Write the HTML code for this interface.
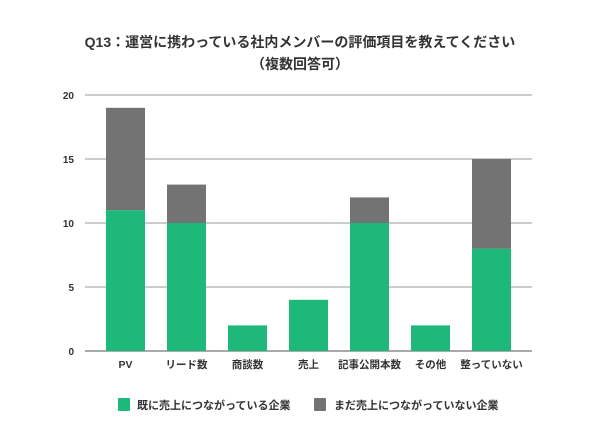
<!DOCTYPE html>
<html><head><meta charset="utf-8"><style>
body{margin:0;background:#fff;}
svg{display:block;font-family:"Liberation Sans","Noto Sans CJK JP",sans-serif;}
</style></head><body>
<svg width="600" height="444" viewBox="0 0 600 444">
<text x="300" y="47" text-anchor="middle" font-size="14" font-weight="bold" fill="#333">Q13：運営に携わっている社内メンバーの評価項目を教えてください</text>
<text x="300" y="69" text-anchor="middle" font-size="14" font-weight="bold" fill="#333">（複数回答可）</text>
<g id="grid"></g><g id="bars"></g><g id="xlabels"></g>
<g>
<rect x="118" y="398" width="12" height="13" rx="1" fill="#1db87a"/>
<text x="137" y="409" font-size="11" font-weight="bold" fill="#333">既に売上につながっている企業</text>
<rect x="314" y="398" width="12" height="13" rx="1" fill="#737373"/>
<text x="334" y="409" font-size="11" font-weight="bold" fill="#333">まだ売上につながっていない企業</text>
</g>
</svg>
<script>
const categories=["PV","リード数","商談数","売上","記事公開本数","その他","整っていない"];
const convertedValues=[11,10,2,4,10,2,8];
const notConvertedValues=[8,3,0,0,2,0,7];
const yTicks=[0,5,10,15,20];
const NS="http://www.w3.org/2000/svg";
const y0=351,yTop=95,yMax=20,left=85,right=532,step=61,barW=39,firstBar=106;
const y=v=>y0-(y0-yTop)*v/yMax;
const x=i=>firstBar+i*step;
function mk(tag,attrs){const e=document.createElementNS(NS,tag);for(const k in attrs)e.setAttribute(k,attrs[k]);return e;}
const grid=document.getElementById('grid'),bars=document.getElementById('bars'),xl=document.getElementById('xlabels');
yTicks.forEach(t=>{
 const l=mk('line',{x1:left,x2:right,y1:y(t),y2:y(t),stroke:t===0?'#555':'#999','stroke-width':1});
 
 
 grid.appendChild(l);
 const tx=mk('text',{x:74,y:y(t)+4,'text-anchor':'end','font-size':10,'font-weight':'bold',fill:'#333'});
 tx.textContent=t;
 
 
 grid.appendChild(tx);
});
categories.forEach((c,i)=>{
 const g=convertedValues[i],n=notConvertedValues[i];
 const r1=mk('rect',{x:x(i),y:y(g),width:barW,height:y0-y(g),fill:'#1db87a'});
 
 
 bars.appendChild(r1);
 if(n>0){
  const r2=mk('rect',{x:x(i),y:y(g+n),width:barW,height:y(g)-y(g+n),fill:'#737373'});
  
  
  bars.appendChild(r2);
 }
 const t=mk('text',{x:x(i)+barW/2,y:368,'text-anchor':'middle','font-size':10.5,'font-weight':'bold',fill:'#333'});
 t.textContent=c;
 
 
 xl.appendChild(t);
});
</script>
</body></html>
